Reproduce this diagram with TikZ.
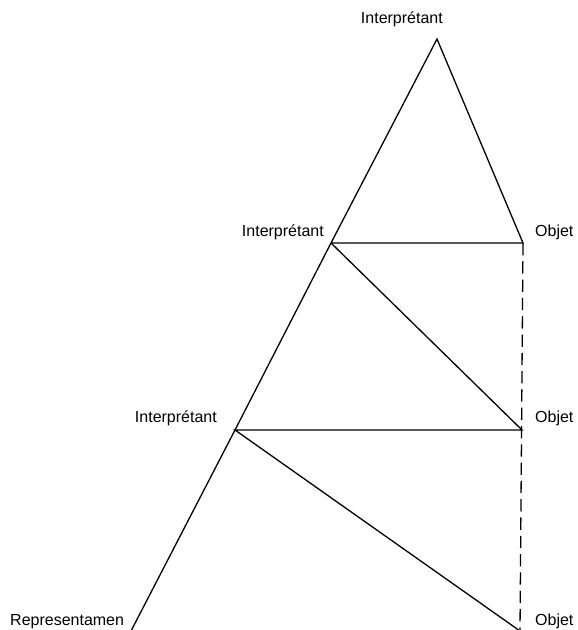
\documentclass[tikz,border=0pt]{standalone}
\usepackage{fontspec}
\setmainfont{Liberation Sans}
\begin{document}
\begin{tikzpicture}[x=1pt,y=-1pt,
  lbl/.style={inner sep=0pt,font=\fontsize{16}{19}\selectfont},
  edge/.style={draw=black,line width=1.3pt},
  dashedge/.style={draw=black,line width=1.3pt,dash pattern=on 12.3pt off 6pt}]
\useasboundingbox (0,0) rectangle (578,630);
% vertices
\coordinate (A) at (437,39);
\coordinate (I2) at (331,243);
\coordinate (O1) at (523,243);
\coordinate (I3) at (235,430);
\coordinate (O2) at (522,430);
\coordinate (R) at (131,631);
\coordinate (O3) at (520,631);
% labels
\node[lbl,anchor=base east] (tI) at (443,23) {Interprétant};
\node[lbl,anchor=base east] (tI2) at (324,236) {Interprétant};
\node[lbl,anchor=base east] (tI3) at (217,422) {Interprétant};
\node[lbl,anchor=base west] (tO1) at (535,236) {Objet};
\node[lbl,anchor=base west] (tO2) at (535,422) {Objet};
\node[lbl,anchor=base west] (tO3) at (535,625) {Objet};
\node[lbl,anchor=base west] (tR) at (10,625) {Representamen};
% edges
\draw[edge] (R) -- (I3) -- (I2) -- (A) -- (O1) -- (I2);
\draw[edge] (I2) -- (O2) -- (I3) -- (O3);
\draw[dashedge] (O1) -- (O3);
\end{tikzpicture}
\end{document}
